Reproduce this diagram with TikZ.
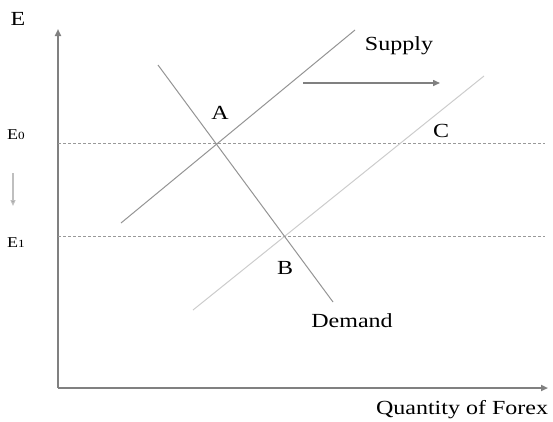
\documentclass[tikz,border=0pt]{standalone}
\usepackage{fontspec}
\setmainfont[FakeStretch=1.2]{Liberation Serif}
\usetikzlibrary{arrows.meta}
\begin{document}
\begin{tikzpicture}[x=1pt,y=-1pt,
  axis/.style={draw=black!50,line width=2pt,-{Triangle[length=7pt,width=6pt]}},
  curve/.style={draw=black!42,line width=1pt},
  lightcurve/.style={draw=black!20,line width=1pt},
  guide/.style={draw=black!40,line width=0.6pt,dash pattern=on 3pt off 2pt},
  shiftarrow/.style={draw=black!50,line width=1.5pt,-{Triangle[length=7pt,width=6pt]}},
  lbl/.style={font=\fontsize{20}{22}\selectfont,inner sep=0pt},
  small/.style={font=\fontsize{13}{15}\selectfont,inner sep=0pt}]
\useasboundingbox (0,0) rectangle (553,421);
\coordinate (O) at (58,388);
\coordinate (ytop) at (58,29);
\coordinate (xend) at (548,388);
\draw[axis] (O) -- (ytop);
\draw[axis] (O) -- (xend);
% guides
\coordinate (g0a) at (58,143); \coordinate (g0b) at (545,143);
\coordinate (g1a) at (58,236); \coordinate (g1b) at (545,236);
\draw[guide] (g0a) -- (g0b);
\draw[guide] (g1a) -- (g1b);
% curves
\coordinate (s1a) at (121,223); \coordinate (s1b) at (355,30);
\coordinate (s2a) at (193,310); \coordinate (s2b) at (484,76);
\coordinate (da) at (158,65); \coordinate (db) at (333,302);
\draw[curve] (s1a) -- (s1b);
\draw[lightcurve] (s2a) -- (s2b);
\draw[curve] (da) -- (db);
% shift arrow
\coordinate (sha) at (303,83); \coordinate (shb) at (440,83);
\draw[shiftarrow] (sha) -- (shb);
% down arrow
\coordinate (dwa) at (13,173); \coordinate (dwb) at (13,206);
\draw[draw=black!25,line width=1.2pt,-{Triangle[length=6pt,width=5pt,fill=black!45]}] (dwa) -- (dwb);
% labels
\node[lbl] (E) at (18,19) {E};
\node[small] (E0) at (16,135) {\fontsize{15}{15}\selectfont E\fontsize{11}{11}\selectfont 0};
\node[small] (E1) at (16,243) {\fontsize{15}{15}\selectfont E\fontsize{11}{11}\selectfont 1};
\node[lbl] (sup) at (399,46) {Supply};
\node[lbl] (A) at (220,113) {A};
\node[lbl] (B) at (285,268) {B};
\node[lbl] (C) at (441,131) {C};
\node[lbl] (dem) at (352,321) {Demand};
\node[lbl] (q) at (462,410) {Quantity of Forex};
\end{tikzpicture}
\end{document}
